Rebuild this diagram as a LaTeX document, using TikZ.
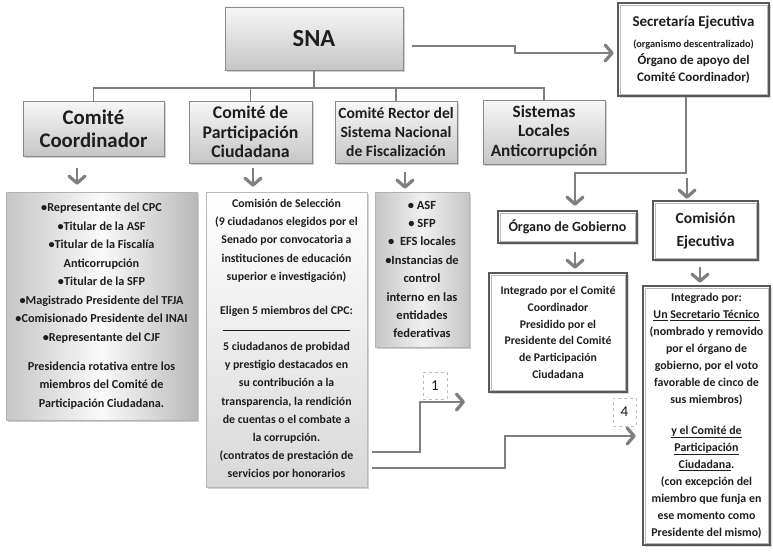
\documentclass[tikz,border=0pt]{standalone}
\usepackage{fontspec}
\setmainfont{Carlito}
\usetikzlibrary{arrows.meta,shadows,calc}
\definecolor{txt}{HTML}{1E1E1E}
\definecolor{ln}{HTML}{7F7F7F}
\definecolor{bd}{HTML}{8A8A8A}
\begin{document}
\begin{tikzpicture}[x=1pt,y=-1pt,
  every node/.style={text=txt,font=\bfseries,inner sep=0pt,align=center},
  head/.style={draw=bd,line width=0.8pt,top color=gray!6,bottom color=gray!45,
    drop shadow={shadow xshift=1.5pt,shadow yshift=-1.8pt,fill=gray!75}},
  dbl/.style={draw=gray!70!black,line width=2.6pt,fill=white,
    drop shadow={shadow xshift=1.5pt,shadow yshift=-1.8pt,fill=gray!60}},
  listA/.style={draw=gray!60,line width=0.6pt,left color=gray!45,right color=gray!55,middle color=gray!4,
    drop shadow={shadow xshift=1.5pt,shadow yshift=-1.8pt,fill=gray!75}},
  listB/.style={draw=gray!55,line width=0.6pt,top color=white,bottom color=gray!30,
    drop shadow={shadow xshift=1.5pt,shadow yshift=-1.8pt,fill=gray!70}},
  listC/.style={draw=gray!60,line width=0.6pt,left color=gray!45,right color=gray!45,middle color=gray!12,
    drop shadow={shadow xshift=1.5pt,shadow yshift=-1.8pt,fill=gray!75}},
  tag/.style={draw=gray!50,dashed,line width=0.6pt,font=\fontsize{15}{15}\selectfont,text=gray!20!black},
  tree/.style={draw=ln,line width=1.8pt},
  tip/.tip={Straight Barb[length=7pt,width=16pt,line width=3.2pt,line cap=round,line join=round]},
  arr/.style={draw=ln,line width=2.8pt,-tip},
  sarr/.style={draw=ln,line width=2.6pt,-tip}
]
\fill[white] (0,0) rectangle (773,551);
\useasboundingbox (0,0) rectangle (773,551);

% heading boxes
\node[head,minimum width=178pt,minimum height=63pt,font=\bfseries\fontsize{24.5}{28}\selectfont] (sna) at (314,38.5) {SNA};
\node[head,minimum width=141pt,minimum height=55pt,font=\bfseries\fontsize{20.8}{23}\selectfont] (cc) at (93.5,128.5) {Comité\\Coordinador};
\node[head,minimum width=123pt,minimum height=62pt,font=\bfseries\fontsize{17.8}{19.5}\selectfont] (cpc) at (250.5,132) {Comité de\\Participación\\Ciudadana};
\node[head,minimum width=122pt,minimum height=62pt,font=\bfseries\fontsize{15.6}{19}\selectfont] (rector) at (396,132) {Comité Rector del\\Sistema Nacional\\de Fiscalización};
\node[head,minimum width=122pt,minimum height=64pt,font=\bfseries\fontsize{17.2}{19.5}\selectfont] (sla) at (544,132) {Sistemas\\Locales\\Anticorrupción};

% double-border boxes
\node[dbl,minimum width=151pt,minimum height=93pt,font=\bfseries\fontsize{13}{17}\selectfont] (sec) at (693.5,49.5)
  {{\fontsize{15}{17}\selectfont Secretaría Ejecutiva}\\[4pt]{\fontsize{10.3}{11}\selectfont (organismo descentralizado)}\\Órgano de apoyo del\\Comité Coordinador)};
\node[dbl,minimum width=139pt,minimum height=32pt,font=\bfseries\fontsize{14}{17}\selectfont] (org) at (567.5,227) {Órgano de Gobierno};
\node[dbl,minimum width=105pt,minimum height=59pt,font=\bfseries\fontsize{15.5}{23}\selectfont] (com) at (705.5,230.5) {Comisión\\Ejecutiva};
\node[dbl,minimum width=138pt,minimum height=119pt,font=\bfseries\fontsize{11.7}{16.8}\selectfont] (int1) at (558,332.5)
  {Integrado por el Comité\\Coordinador\\Presidido por el\\Presidente del Comité\\de Participación\\Ciudadana};
\node[dbl,minimum width=127pt,minimum height=259pt,font=\bfseries\fontsize{11.9}{17}\selectfont] (int2) at (706.5,415.5)
  {Integrado por:\\\underline{Un} \underline{Secretario Técnico}\\(nombrado y removido\\por el órgano de\\gobierno, por el voto\\favorable de cinco de\\sus miembros)\\[14pt]\underline{y el Comité de}\\\underline{Participación}\\\underline{Ciudadana}.\\(con excepción del\\miembro que funja en\\ese momento como\\Presidente del mismo)};
\foreach \n in {sec,org,com,int1,int2}
  \draw[gray!55,line width=0.6pt] ([shift={(3.2,3.2)}]\n.north west) rectangle ([shift={(-3.2,-3.2)}]\n.south east);

% list boxes
\node[listA,minimum width=191pt,minimum height=228pt,font=\bfseries\fontsize{12.2}{18.5}\selectfont] (cclist) at (101.5,306)
  {\textbullet Representante del CPC\\\textbullet Titular de la ASF\\\textbullet Titular de la Fiscalía\\Anticorrupción\\\textbullet Titular de la SFP\\\textbullet Magistrado Presidente del TFJA\\\textbullet Comisionado Presidente del INAI\\\textbullet Representante del CJF\\[10.5pt]Presidencia rotativa entre los\\miembros del Comité de\\Participación Ciudadana.};
\node[listB,minimum width=161pt,minimum height=295pt,font=\bfseries\fontsize{11.8}{18.2}\selectfont] (cpclist) at (286.5,339.5)
  {Comisión de Selección\\(9 ciudadanos elegidos por el\\Senado por convocatoria a\\instituciones de educación\\superior e investigación)\\[15.7pt]Eligen 5 miembros del CPC:\\\rule[2pt]{127pt}{0.7pt}\\5 ciudadanos de probidad\\y prestigio destacados en\\su contribución a la\\transparencia, la rendición\\de cuentas o el combate a\\la corrupción.\\(contratos de prestación de\\servicios por honorarios};
\node[listC,minimum width=94pt,minimum height=155pt,font=\bfseries\fontsize{12.5}{18.4}\selectfont] (rlist) at (422,269.5)
  {\textbullet\ ASF\\\textbullet\ SFP\\\textbullet\ \ EFS locales\\\textbullet Instancias de\\control\\interno en las\\entidades\\federativas};

% tags
\node[tag,minimum width=24pt,minimum height=27pt] (lab1) at (435,385.5) {1};
\node[tag,minimum width=23pt,minimum height=28pt] (lab4) at (624.5,412) {4};

% tree
\coordinate (hl) at (0,88);
\draw[tree] (sna.south) -- (sna.south |- hl);
\draw[tree] (cc.north) |- (sla.north |- hl) -- (sla.north);
\draw[tree] (cpc.north) -- (cpc.north |- hl);
\draw[tree] (rector.north) -- (rector.north |- hl);

% SNA -> Secretaria
\coordinate (s1) at ($(sna.east)+(9,7.5)$);
\coordinate (t1) at ($(sec.west)+(-3,3.5)$);
\draw[arr] (s1) -- (515,46) -- (515,53) -- (t1);

% Secretaria -> Organo / Comision
\coordinate (s2) at ($(sec.south)+(-7.5,0)$);
\draw[arr] (s2) -- (686,173) -- (575,173) -- ($(org.north)+(7.5,-4)$);
\draw[arr] (687,178) -- ($(com.north)+(-18.5,-1)$);

% short arrows
\draw[sarr] ($(cc.south)+(-16.5,12)$) -- ($(cclist.north)+(-24.5,-7)$);
\draw[sarr] ($(cpc.south)+(2.5,5)$) -- ($(cpclist.north)+(-33.5,-5)$);
\draw[sarr] ($(rector.south)+(9,9)$) -- ($(rlist.north)+(-17,-3)$);
\draw[sarr] ($(org.south)+(7.5,8)$) -- ($(int1.north)+(17,-3)$);
\draw[sarr] ($(com.south)+(-5.5,6)$) -- ($(int2.north)+(-6.5,-2)$);

% step arrows
\coordinate (e1) at (465,402);
\draw[arr] ($(cpclist.east)+(5,112.5)$) -| (420,402) -- (e1);
\draw[arr] ($(cpclist.east)+(5,128.5)$) -| (505,436) -- ($(int2.west)+(-6,20.5)$);
\end{tikzpicture}
\end{document}
